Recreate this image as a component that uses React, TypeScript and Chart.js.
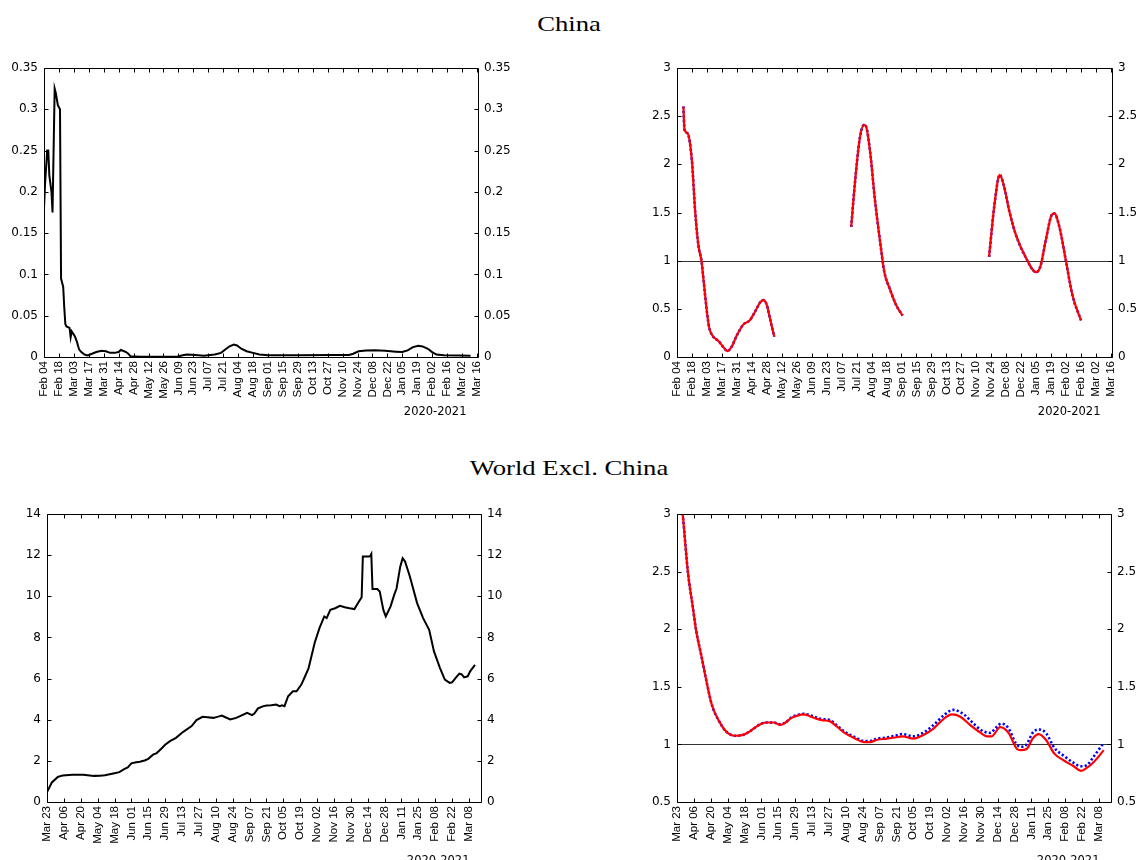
import React, { useEffect, useRef } from "react";
import { Chart, registerables } from "chart.js";

Chart.register(...registerables);

// ---------------- Data ----------------
const TICK_STEP_DAYS = 14;
const AXIS_NOTE = "2020-2021";
const REF_LINE_R = 1;

const chinaTickLabels = [
  "Feb 04", "Feb 18", "Mar 03", "Mar 17", "Mar 31", "Apr 14", "Apr 28", "May 12", "May 26", "Jun 09",
  "Jun 23", "Jul 07", "Jul 21", "Aug 04", "Aug 18", "Sep 01", "Sep 15", "Sep 29", "Oct 13", "Oct 27",
  "Nov 10", "Nov 24", "Dec 08", "Dec 22", "Jan 05", "Jan 19", "Feb 02", "Feb 16", "Mar 02", "Mar 16",
];
const worldTickLabels = [
  "Mar 23", "Apr 06", "Apr 20", "May 04", "May 18", "Jun 01", "Jun 15", "Jun 29", "Jul 13", "Jul 27",
  "Aug 10", "Aug 24", "Sep 07", "Sep 21", "Oct 05", "Oct 19", "Nov 02", "Nov 16", "Nov 30", "Dec 14",
  "Dec 28", "Jan 11", "Jan 25", "Feb 08", "Feb 22", "Mar 08",
];

// China, left panel (days since Feb 04, 2020)
const chinaGrowthDays = [
  0, 1, 3, 4, 5, 7, 8, 10, 11, 13, 15, 16, 17, 18, 19, 20, 21, 23, 24, 25, 26, 27, 29, 31, 32, 33, 35, 38,
  41, 45, 49, 54, 58, 62, 66, 70, 72, 74, 77, 79, 81, 90, 125, 130, 134, 142, 150, 160, 166, 170, 174,
  178, 181, 185, 190, 196, 202, 210, 240, 270, 286, 290, 295, 302, 310, 320, 330, 336, 341, 346, 351,
  355, 360, 364, 368, 375, 390, 400,
];
const chinaGrowthValues = [
  0.18, 0.21, 0.25, 0.25, 0.22, 0.2, 0.175, 0.325, 0.32, 0.305, 0.3, 0.095, 0.09, 0.085, 0.06, 0.04,
  0.037, 0.036, 0.035, 0.024, 0.031, 0.029, 0.025, 0.018, 0.013, 0.009, 0.006, 0.003, 0.002, 0.004,
  0.006, 0.0075, 0.007, 0.005, 0.005, 0.006, 0.0085, 0.0075, 0.006, 0.004, 0.001, 0.0004, 0.0004, 0.002,
  0.003, 0.0025, 0.0015, 0.003, 0.005, 0.009, 0.013, 0.015, 0.014, 0.01, 0.007, 0.005, 0.003, 0.002,
  0.002, 0.0025, 0.0025, 0.004, 0.007, 0.008, 0.0082, 0.0075, 0.0065, 0.006, 0.008, 0.012, 0.0135,
  0.0128, 0.01, 0.006, 0.003, 0.002, 0.0018, 0.0015,
];

// China, right panel (null = gap)
const chinaRDays = [
  6, 7, 10, 14, 17, 20, 23, 25, 28, 30, 33, 39, 44, 47, 51, 56, 62, 68, 73, 78, 81, 84, 87, 91,
  127,
  163, 166, 171, 175, 177, 181, 185, 190, 194, 199, 205, 211,
  250,
  292, 297, 302, 306, 311, 317, 326, 336, 340, 345, 350, 353, 358, 364, 370, 378,
];
const chinaRRed = [
  2.6, 2.36, 2.32, 2.03, 1.51, 1.16, 0.99, 0.78, 0.47, 0.31, 0.225, 0.163, 0.094, 0.062, 0.104, 0.225,
  0.336, 0.38, 0.47, 0.57, 0.59, 0.54, 0.4, 0.21,
  null,
  1.35, 1.75, 2.27, 2.41, 2.39, 2.1, 1.65, 1.2, 0.88, 0.71, 0.54, 0.43,
  null,
  1.04, 1.58, 1.89, 1.77, 1.51, 1.27, 1.04, 0.88, 0.94, 1.21, 1.46, 1.49, 1.34, 0.99, 0.64, 0.38,
];
const chinaRBlue = [
  2.6, 2.36, 2.32, 2.03, 1.51, 1.16, 0.99, 0.78, 0.47, 0.31, 0.225, 0.163, 0.094, 0.062, 0.104, 0.225,
  0.336, 0.38, 0.47, 0.57, 0.59, 0.54, 0.4, 0.21,
  null,
  1.35, 1.75, 2.27, 2.41, 2.39, 2.1, 1.65, 1.2, 0.88, 0.71, 0.54, 0.43,
  null,
  1.04, 1.58, 1.89, 1.77, 1.51, 1.27, 1.04, 0.88, 0.94, 1.21, 1.46, 1.49, 1.34, 0.99, 0.64, 0.38,
];

// World excl. China, left panel (days since Mar 23, 2020)
const worldGrowthDays = [
  0, 4, 9, 13, 21, 30, 39, 44, 48, 52, 56, 60, 64, 67, 70, 74, 77, 81, 84, 88, 91, 95, 98, 102, 107,
  113, 120, 124, 129, 133, 138, 142, 145, 148, 152, 157, 161, 166, 170, 172, 175, 179, 182, 186, 190,
  193, 195, 197, 200, 204, 207, 211, 214, 217, 222, 226, 230, 232, 235, 239, 243, 247, 251, 255, 258,
  261, 262, 267, 268, 269, 270, 274, 276, 279, 281, 285, 288, 290, 293, 295, 297, 301, 307, 312, 317,
  321, 326, 330, 334, 336, 339, 342, 344, 346, 349, 351, 355,
];
const worldGrowthValues = [
  0.48, 0.95, 1.22, 1.29, 1.32, 1.32, 1.27, 1.28, 1.3, 1.35, 1.4, 1.45, 1.6, 1.68, 1.88, 1.93, 1.96,
  2.02, 2.1, 2.3, 2.38, 2.6, 2.78, 2.96, 3.12, 3.41, 3.69, 3.98, 4.14, 4.12, 4.09, 4.15, 4.2, 4.12,
  4.01, 4.09, 4.2, 4.33, 4.22, 4.3, 4.55, 4.65, 4.69, 4.7, 4.74, 4.66, 4.7, 4.66, 5.14, 5.38, 5.38,
  5.71, 6.1, 6.51, 7.73, 8.45, 9.02, 8.94, 9.34, 9.42, 9.54, 9.47, 9.42, 9.38, 9.67, 9.95, 11.93,
  11.93, 11.95, 12.06, 10.35, 10.35, 10.23, 9.34, 9.02, 9.51, 10.07, 10.39, 11.44, 11.85, 11.69, 10.96,
  9.67, 8.94, 8.37, 7.32, 6.51, 5.95, 5.79, 5.82, 6.03, 6.24, 6.2, 6.06, 6.11, 6.35, 6.67,
];

// World excl. China, right panel
const worldRRedDays = [
  0, 5, 9, 13, 16, 20, 25, 29, 35, 41, 48, 54, 60, 64, 70, 75, 80, 86, 90, 95, 100, 105, 110, 115, 120,
  127, 132, 139, 148, 155, 160, 166, 174, 181, 187, 196, 204, 213, 221, 228, 235, 243, 252, 257, 261,
  268, 275, 282, 285, 290, 295, 300, 306, 313, 321, 329, 335, 339, 346, 354,
];
const worldRRed = [
  3.5, 2.97, 2.5, 2.2, 1.98, 1.78, 1.52, 1.34, 1.2, 1.11, 1.075, 1.08, 1.11, 1.14, 1.18, 1.19, 1.19,
  1.17, 1.19, 1.23, 1.25, 1.26, 1.245, 1.225, 1.21, 1.2, 1.16, 1.1, 1.05, 1.02, 1.02, 1.04, 1.05, 1.06,
  1.07, 1.05, 1.08, 1.14, 1.22, 1.26, 1.24, 1.17, 1.1, 1.07, 1.07, 1.15, 1.1, 0.96, 0.95, 0.96, 1.05,
  1.09, 1.04, 0.92, 0.86, 0.81, 0.77, 0.79, 0.85, 0.95,
];
const worldRBlueDays = [
  0, 5, 9, 13, 16, 20, 25, 29, 35, 41, 48, 54, 60, 64, 70, 75, 80, 86, 90, 95, 100, 105, 110, 115, 120,
  127, 132, 139, 148, 155, 160, 166, 174, 181, 187, 196, 204, 213, 221, 229, 238, 246, 253, 260, 264,
  269, 275, 281, 285, 290, 295, 300, 306, 313, 321, 329, 335, 340, 346, 353,
];
const worldRBlue = [
  3.5, 2.97, 2.5, 2.2, 1.98, 1.78, 1.52, 1.34, 1.2, 1.11, 1.075, 1.08, 1.11, 1.14, 1.18, 1.19, 1.19,
  1.175, 1.19, 1.235, 1.255, 1.265, 1.255, 1.235, 1.22, 1.21, 1.17, 1.11, 1.06, 1.03, 1.03, 1.05, 1.06,
  1.075, 1.09, 1.07, 1.1, 1.17, 1.25, 1.3, 1.26, 1.18, 1.12, 1.1, 1.14, 1.18, 1.14, 1.01, 0.98, 1.0,
  1.1, 1.13, 1.1, 0.97, 0.9, 0.84, 0.81, 0.82, 0.9, 1.0,
];

// ---------------- Helpers ----------------
const toPoints = (xs: number[], ys: (number | null)[]) => xs.map((x, i) => ({ x, y: ys[i] }));
const fmtNum = (v: number) => String(Number(Number(v).toFixed(4)));

const Y_FONT = { family: "'DejaVu Sans', sans-serif", size: 12 };
const X_FONT = { family: "'Liberation Sans', Arial, sans-serif", size: 11.5 };

const framePlugin = {
  id: "frameTicks",
  beforeDatasetsDraw(chart: any, _a: any, opts: any) {
    if (opts.refLine == null) return;
    const { ctx, chartArea: a, scales } = chart;
    const y = Math.round(scales.y.getPixelForValue(opts.refLine)) + 0.5;
    ctx.save();
    ctx.strokeStyle = "#333";
    ctx.lineWidth = 1;
    ctx.beginPath();
    ctx.moveTo(a.left, y);
    ctx.lineTo(a.right, y);
    ctx.stroke();
    ctx.restore();
  },
  afterDraw(chart: any, _a: any, opts: any) {
    const { ctx, chartArea: a, scales } = chart;
    const L = Math.round(a.left) + 0.5;
    const R = Math.round(a.right) + 0.5;
    const T = Math.round(a.top) + 0.5;
    const B = Math.round(a.bottom) + 0.5;
    const len = 4;
    ctx.save();
    ctx.strokeStyle = "#000";
    ctx.lineWidth = 1;
    ctx.beginPath();
    ctx.rect(L, T, R - L, B - T);
    for (const t of scales.x.ticks) {
      const x = Math.round(scales.x.getPixelForValue(t.value)) + 0.5;
      ctx.moveTo(x, B);
      ctx.lineTo(x, B - len);
      ctx.moveTo(x, T);
      ctx.lineTo(x, T + len);
    }
    for (const t of scales.y.ticks) {
      const y = Math.round(scales.y.getPixelForValue(t.value)) + 0.5;
      ctx.moveTo(L, y);
      ctx.lineTo(L + len, y);
      ctx.moveTo(R, y);
      ctx.lineTo(R - len, y);
    }
    ctx.stroke();
    if (opts.note) {
      ctx.fillStyle = "#000";
      ctx.font = "11.5px 'DejaVu Sans', sans-serif";
      ctx.textAlign = "right";
      ctx.textBaseline = "alphabetic";
      ctx.fillText(opts.note, R - 12, B + opts.noteOffset);
    }
    ctx.restore();
  },
};

type Spec = {
  left: number;
  top: number;
  width: number;
  height: number;
  padTop: number;
  leftW: number;
  rightW: number;
  bottomH: number;
  xMax: number;
  tickLabels: string[];
  yMin: number;
  yMax: number;
  yStep: number;
  refLine: number | null;
  noteOffset: number;
  datasets: any[];
};

function Panel({ spec }: { spec: Spec }) {
  const ref = useRef<HTMLCanvasElement>(null);
  useEffect(() => {
    if (!ref.current) return;
    const yScale = (position: "left" | "right", w: number) => ({
      type: "linear",
      position,
      min: spec.yMin,
      max: spec.yMax,
      grid: { display: false, drawTicks: false },
      border: { display: false },
      ticks: {
        stepSize: spec.yStep,
        padding: 6,
        color: "#000",
        font: Y_FONT,
        callback: (v: number) => fmtNum(v),
      },
      afterFit: (s: any) => {
        s.width = w;
      },
    });
    const chart = new Chart(ref.current, {
      type: "line",
      data: { datasets: spec.datasets },
      options: {
        animation: false,
        responsive: false,
        maintainAspectRatio: false,
        devicePixelRatio: 1,
        layout: { padding: { top: spec.padTop, left: 0, right: 0, bottom: 0 } },
        plugins: {
          legend: { display: false },
          tooltip: { enabled: false },
          frameTicks: { refLine: spec.refLine, note: AXIS_NOTE, noteOffset: spec.noteOffset },
        } as any,
        elements: { point: { radius: 0 } },
        scales: {
          x: {
            type: "linear",
            position: "bottom",
            min: 0,
            max: spec.xMax,
            grid: { display: false, drawTicks: false },
            border: { display: false },
            afterBuildTicks: (s: any) => {
              s.ticks = spec.tickLabels.map((_, i) => ({ value: i * TICK_STEP_DAYS }));
            },
            ticks: {
              autoSkip: false,
              minRotation: 90,
              maxRotation: 90,
              padding: 4,
              color: "#000",
              font: X_FONT,
              callback: (_v: number, i: number) => spec.tickLabels[i],
            },
            afterFit: (s: any) => {
              s.height = spec.bottomH;
            },
          },
          y: yScale("left", spec.leftW),
          y2: yScale("right", spec.rightW),
        } as any,
      },
      plugins: [framePlugin],
    } as any);
    return () => chart.destroy();
  }, [spec]);
  return (
    <div style={{ position: "absolute", left: spec.left, top: spec.top, width: spec.width, height: spec.height }}>
      <canvas ref={ref} width={spec.width} height={spec.height} style={{ width: spec.width, height: spec.height }} />
    </div>
  );
}

const blackLine = (xs: number[], ys: number[]) => ({
  data: toPoints(xs, ys),
  borderColor: "#000",
  borderWidth: 2,
  tension: 0,
  yAxisID: "y",
});
const redLine = (xs: number[], ys: (number | null)[]) => ({
  data: toPoints(xs, ys),
  borderColor: "#ff0000",
  borderWidth: 2.2,
  cubicInterpolationMode: "monotone",
  spanGaps: false,
  yAxisID: "y",
});
const blueDotted = (xs: number[], ys: (number | null)[]) => ({
  data: toPoints(xs, ys),
  borderColor: "#0000ff",
  borderWidth: 2.6,
  borderDash: [2.2, 2.2],
  cubicInterpolationMode: "monotone",
  spanGaps: false,
  yAxisID: "y",
});

const specs: Spec[] = [
  {
    left: 0, top: 50, width: 545, height: 380, padTop: 18, leftW: 44, rightW: 67, bottomH: 73,
    xMax: 407, tickLabels: chinaTickLabels, yMin: 0, yMax: 0.35, yStep: 0.05, refLine: null, noteOffset: 57,
    datasets: [blackLine(chinaGrowthDays, chinaGrowthValues)],
  },
  {
    left: 590, top: 50, width: 548, height: 380, padTop: 18, leftW: 87, rightW: 26, bottomH: 73,
    xMax: 407, tickLabels: chinaTickLabels, yMin: 0, yMax: 3, yStep: 0.5, refLine: REF_LINE_R, noteOffset: 57,
    datasets: [redLine(chinaRDays, chinaRRed), blueDotted(chinaRDays, chinaRBlue)],
  },
  {
    left: 0, top: 495, width: 545, height: 365, padTop: 19, leftW: 47, rightW: 64, bottomH: 58,
    xMax: 360, tickLabels: worldTickLabels, yMin: 0, yMax: 14, yStep: 2, refLine: null, noteOffset: 61,
    datasets: [blackLine(worldGrowthDays, worldGrowthValues)],
  },
  {
    left: 590, top: 495, width: 548, height: 365, padTop: 19, leftW: 87, rightW: 27, bottomH: 58,
    xMax: 360, tickLabels: worldTickLabels, yMin: 0.5, yMax: 3, yStep: 0.5, refLine: REF_LINE_R, noteOffset: 61,
    datasets: [redLine(worldRRedDays, worldRRed), blueDotted(worldRBlueDays, worldRBlue)],
  },
];

const titleStyle: React.CSSProperties = {
  position: "absolute",
  left: 0,
  width: 1138,
  textAlign: "center",
  fontFamily: "'Liberation Serif', 'DejaVu Serif', serif",
  fontSize: 21,
  lineHeight: "24px",
  color: "#000",
  whiteSpace: "nowrap",
  transform: "scaleX(1.27)",
  transformOrigin: "569px 50%",
};

export default function App() {
  return (
    <div style={{ position: "absolute", left: 0, top: 0, width: 1138, height: 860, overflow: "hidden", background: "#fff" }}>
      <div style={{ ...titleStyle, top: 12 }}>China</div>
      <div style={{ ...titleStyle, top: 456 }}>World Excl. China</div>
      {specs.map((s, i) => (
        <Panel key={i} spec={s} />
      ))}
    </div>
  );
}
